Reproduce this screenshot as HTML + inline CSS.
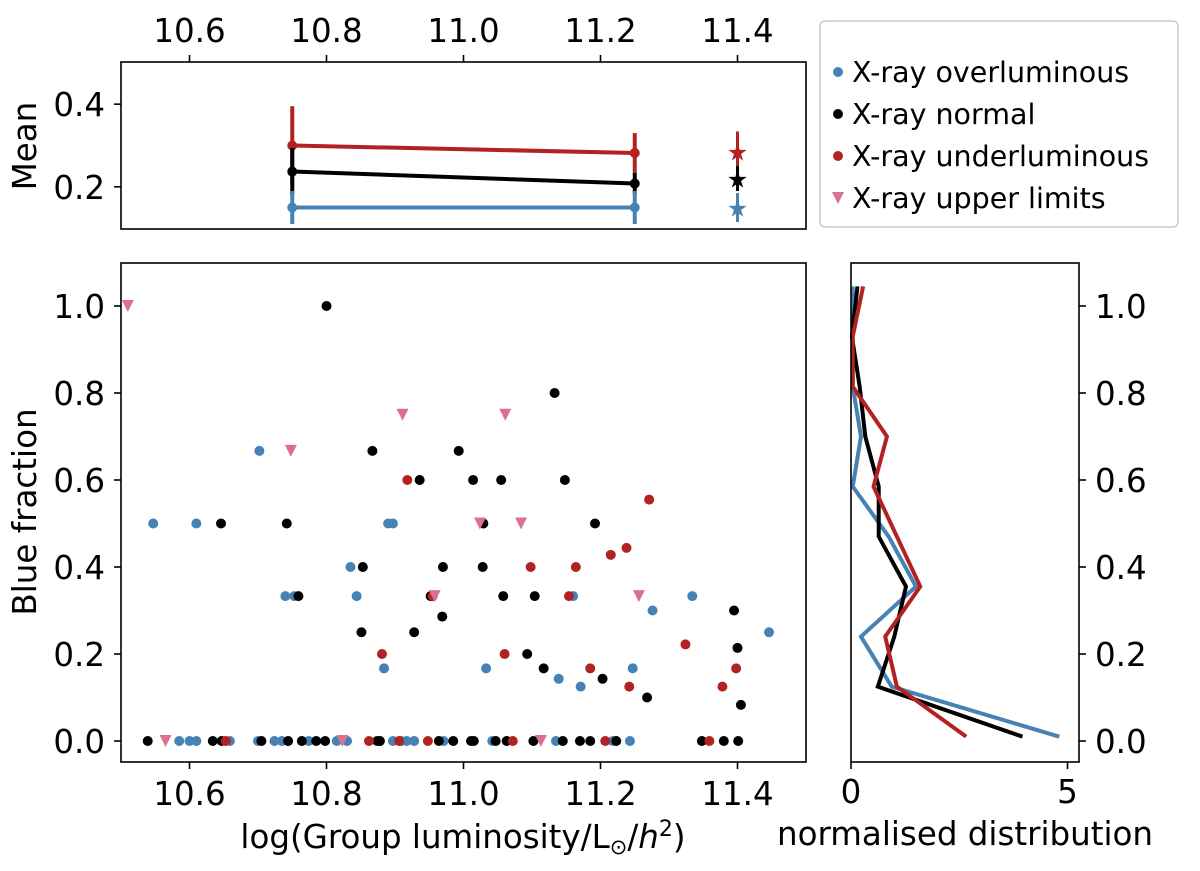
<!DOCTYPE html>
<html><head><meta charset="utf-8"><style>
html,body{margin:0;padding:0;background:#fff;}
svg text{font-family:"DejaVu Sans","Liberation Sans",sans-serif;fill:#000;}
</style></head><body>
<svg id="chart" width="1200" height="866" viewBox="0 0 1200 866" xmlns="http://www.w3.org/2000/svg"></svg>
<script>
// ---- main scatter data ----
const overX = [10.547,10.61,10.89,10.897,10.702,10.835,10.74,10.753,10.844,10.884,11.033,11.16,11.334,11.276,11.446,11.247,11.139,11.171,
  10.585,10.6,10.61,10.659,10.7,10.724,10.735,10.774,10.815,10.83,10.897,10.909,10.917,10.928,10.971,11.042,11.135,11.218,11.243];
const overY = [0.5,0.5,0.5,0.5,0.667,0.4,0.333,0.333,0.333,0.167,0.167,0.333,0.333,0.3,0.25,0.167,0.143,0.125,
  0,0,0,0,0,0,0,0,0,0,0,0,0,0,0,0,0,0,0];
const normX = [10.8,10.867,10.993,10.936,10.646,10.742,11.133,11.014,11.055,11.148,11.029,11.192,10.853,10.97,10.759,10.952,10.969,10.851,10.928,
  11.028,11.058,11.104,11.395,11.4,11.093,11.117,11.203,11.268,11.405,
  10.539,10.634,10.647,10.705,10.744,10.764,10.785,10.798,10.874,10.878,10.964,10.985,11.011,11.015,11.047,11.063,11.102,11.145,11.17,11.185,11.223,11.348,11.38,11.401];
const normY = [1.0,0.667,0.667,0.6,0.5,0.5,0.8,0.6,0.6,0.6,0.5,0.5,0.4,0.4,0.333,0.333,0.286,0.25,0.25,
  0.4,0.333,0.333,0.3,0.214,0.2,0.167,0.143,0.1,0.083,
  0,0,0,0,0,0,0,0,0,0,0,0,0,0,0,0,0,0,0,0,0,0,0,0];
const underX = [10.918,11.271,10.955,10.881,11.215,11.238,11.098,11.164,11.154,11.324,11.06,11.185,11.398,11.242,11.378,
  10.653,10.862,10.906,10.948,11.072,11.207,11.359];
const underY = [0.6,0.555,0.333,0.2,0.428,0.444,0.4,0.4,0.333,0.222,0.2,0.167,0.167,0.125,0.125,
  0,0,0,0,0,0,0];
const limX = [10.51,10.911,10.748,11.061,11.024,11.084,10.958,11.256,10.565,10.823,11.113];
const limY = [1.0,0.75,0.667,0.75,0.5,0.5,0.333,0.333,0,0,0];
// ---- mean panel data ----
const meanBinX = [10.75,11.25];
const meanStarX = 11.4;
const meanOver = [0.15,0.15], meanOverErr = [0.04,0.04], starOver = 0.15, starOverErr = 0.035;
const meanNorm = [0.237,0.208], meanNormErr = [0.057,0.026], starNorm = 0.22, starNormErr = 0.03;
const meanUnder = [0.3,0.282], meanUnderErr = [0.095,0.048], starUnder = 0.286, starUnderErr = 0.048;
// ---- distribution panel data ----
const distBins = [0.01,0.125,0.24,0.355,0.47,0.585,0.7,0.815,0.93,1.045];
const distOver = [4.81,0.94,0.23,1.5,0.87,0.04,0.23,0.04,0.04,0.04];
const distNorm = [3.96,0.62,1.0,1.27,0.64,0.64,0.33,0.2,0.02,0.15];
const distUnder = [2.66,1.06,0.79,1.6,1.06,0.52,0.83,0.04,0.04,0.28];
const xTicks = [10.6,10.8,11.0,11.2,11.4];
const xTickLabels = ["10.6","10.8","11.0","11.2","11.4"];
const yTicks = [0,0.2,0.4,0.6,0.8,1.0];
const yTickLabels = ["0.0","0.2","0.4","0.6","0.8","1.0"];
const meanTicks = [0.2,0.4];
const meanTickLabels = ["0.2","0.4"];
const distTicks = [0,5];
const distTickLabels = ["0","5"];

const BLUE="#4682b4", BLACK="#000", RED="#b22222", PINK="#db7093";
const FS=32.5;
const svg = document.getElementById('chart');
const NS="http://www.w3.org/2000/svg";
function mk(tag, attrs, parent){const e=document.createElementNS(NS,tag);for(const k in attrs)e.setAttribute(k,attrs[k]);(parent||svg).appendChild(e);return e;}

const M={l:121,r:806,t:263,b:762}, T={l:121,r:806,t:62,b:229}, D={l:851,r:1079,t:263,b:762};
const sx = v => M.l + (v-10.5)*(M.r-M.l);
const sy = v => 741 - v*435;
const my = v => T.b - (v-0.098)/(0.502-0.098)*(T.b-T.t);
const dx = v => D.l + v*43.3;

// ---- main panel ----
const gMain = mk('g',{});  
function dots(xs,ys,col,name){
  const g=mk('g',{},gMain);
  
  
  xs.forEach((x,i)=>{const c=mk('circle',{cx:sx(x),cy:sy(ys[i]),r:5,fill:col},g);
    
    });
}
dots(overX,overY,BLUE,'overluminous-series');
dots(normX,normY,BLACK,'normal-series');
dots(underX,underY,RED,'underluminous-series');
{
  const g=mk('g',{},gMain);
  
  
  limX.forEach((x,i)=>{const X=sx(x),Y=sy(limY[i]);
    const p=mk('polygon',{points:`${X-6},${Y-6} ${X+6},${Y-6} ${X},${Y+6}`,fill:PINK},g);
    
    });
}
const frameM=mk('rect',{x:M.l,y:M.t,width:M.r-M.l,height:M.b-M.t,fill:'none',stroke:'#000','stroke-width':1.6});


xTicks.forEach((v,i)=>{mk('line',{x1:sx(v),x2:sx(v),y1:M.b,y2:M.b+7,stroke:'#000','stroke-width':1.6});
  const t=mk('text',{x:sx(v),y:805,'font-size':FS,'text-anchor':'middle'});t.textContent=xTickLabels[i];
  
  });
yTicks.forEach((v,i)=>{mk('line',{x1:M.l-7,x2:M.l,y1:sy(v),y2:sy(v),stroke:'#000','stroke-width':1.6});
  const t=mk('text',{x:M.l-16,y:sy(v)+12,'font-size':FS,'text-anchor':'end'});t.textContent=yTickLabels[i];
  
  });
{const t=mk('text',{x:463,y:848,'font-size':FS,'text-anchor':'middle'});
 t.innerHTML='log(Group luminosity/L<tspan font-size="21" dy="6">⊙</tspan><tspan dy="-6">/</tspan><tspan font-style="italic">h</tspan><tspan font-size="22" dy="-12">2</tspan><tspan dy="12">)</tspan>';
 
 }
{const t=mk('text',{x:0,y:0,'font-size':FS,'text-anchor':'middle',transform:'translate(36,512) rotate(-90)'});t.textContent='Blue fraction';
 
 }

// ---- mean panel ----
const gTop=mk('g',{});  
function meanSeries(vals,errs,sv,se,col,name){
  const g=mk('g',{},gTop);
  
  
  meanBinX.forEach((x,i)=>{mk('line',{x1:sx(x),x2:sx(x),y1:my(vals[i]-errs[i]),y2:my(vals[i]+errs[i]),stroke:col,'stroke-width':4},g);});
  mk('polyline',{points:meanBinX.map((x,i)=>sx(x)+','+my(vals[i])).join(' '),fill:'none',stroke:col,'stroke-width':4},g);
  meanBinX.forEach((x,i)=>{const c=mk('circle',{cx:sx(x),cy:my(vals[i]),r:5,fill:col},g);
    
    });
  mk('line',{x1:sx(meanStarX),x2:sx(meanStarX),y1:my(sv-se),y2:my(sv+se),stroke:col,'stroke-width':3},g);
  const st=mk('text',{x:sx(meanStarX),y:my(sv)+9,'font-size':24,'text-anchor':'middle',fill:col,style:'fill:'+col},g);st.textContent='★';
  
  
}
meanSeries(meanUnder,meanUnderErr,starUnder,starUnderErr,RED,'mean-underluminous');
meanSeries(meanNorm,meanNormErr,starNorm,starNormErr,BLACK,'mean-normal');
meanSeries(meanOver,meanOverErr,starOver,starOverErr,BLUE,'mean-overluminous');
const frameT=mk('rect',{x:T.l,y:T.t,width:T.r-T.l,height:T.b-T.t,fill:'none',stroke:'#000','stroke-width':1.6});


xTicks.forEach((v,i)=>{mk('line',{x1:sx(v),x2:sx(v),y1:T.t-7,y2:T.t,stroke:'#000','stroke-width':1.6});
  const t=mk('text',{x:sx(v),y:42,'font-size':FS,'text-anchor':'middle'});t.textContent=xTickLabels[i];
  
  });
meanTicks.forEach((v,i)=>{mk('line',{x1:T.l-7,x2:T.l,y1:my(v),y2:my(v),stroke:'#000','stroke-width':1.6});
  const t=mk('text',{x:T.l-16,y:my(v)+12,'font-size':FS,'text-anchor':'end'});t.textContent=meanTickLabels[i];
  
  });
{const t=mk('text',{x:0,y:0,'font-size':FS,'text-anchor':'middle',transform:'translate(36,146) rotate(-90)'});t.textContent='Mean';
 
 }

// ---- distribution panel ----
const gD=mk('g',{});  
[[distOver,BLUE,'dist-overluminous'],[distNorm,BLACK,'dist-normal'],[distUnder,RED,'dist-underluminous']].forEach(([arr,col,name])=>{
  const p=mk('polyline',{points:arr.map((v,i)=>dx(v)+','+sy(distBins[i])).join(' '),fill:'none',stroke:col,'stroke-width':4},gD);
  
  
});
const frameD=mk('rect',{x:D.l,y:D.t,width:D.r-D.l,height:D.b-D.t,fill:'none',stroke:'#000','stroke-width':1.6});


distTicks.forEach((v,i)=>{mk('line',{x1:dx(v),x2:dx(v),y1:D.b,y2:D.b+7,stroke:'#000','stroke-width':1.6});
  const t=mk('text',{x:dx(v),y:803,'font-size':FS,'text-anchor':'middle'});t.textContent=distTickLabels[i];
  
  });
yTicks.forEach((v,i)=>{mk('line',{x1:D.r,x2:D.r+7,y1:sy(v),y2:sy(v),stroke:'#000','stroke-width':1.6});
  const t=mk('text',{x:D.r+16,y:sy(v)+12,'font-size':FS,'text-anchor':'start'});t.textContent=yTickLabels[i];
  
  });
{const t=mk('text',{x:965,y:845,'font-size':FS,'text-anchor':'middle'});t.textContent='normalised distribution';
 
 }

// ---- legend ----
const gL=mk('g',{});  
mk('rect',{x:820,y:21,width:358,height:206,rx:5,fill:'#fff',stroke:'#ccc','stroke-width':1.5},gL);
const legendNames=['X-ray overluminous','X-ray normal','X-ray underluminous','X-ray upper limits'];
const legendCols=[BLUE,BLACK,RED,PINK];
legendNames.forEach((n,i)=>{
  const y=72+i*42;
  const e=mk('g',{},gL);
  
  
  if(i<3) mk('circle',{cx:838,cy:y,r:5,fill:legendCols[i]},e);
  else mk('polygon',{points:`${832},${y-6} ${844},${y-6} ${838},${y+6}`,fill:PINK},e);
  const t=mk('text',{x:852,y:y+10,'font-size':28.5},e);t.textContent=n;
});
</script>
</body></html>
